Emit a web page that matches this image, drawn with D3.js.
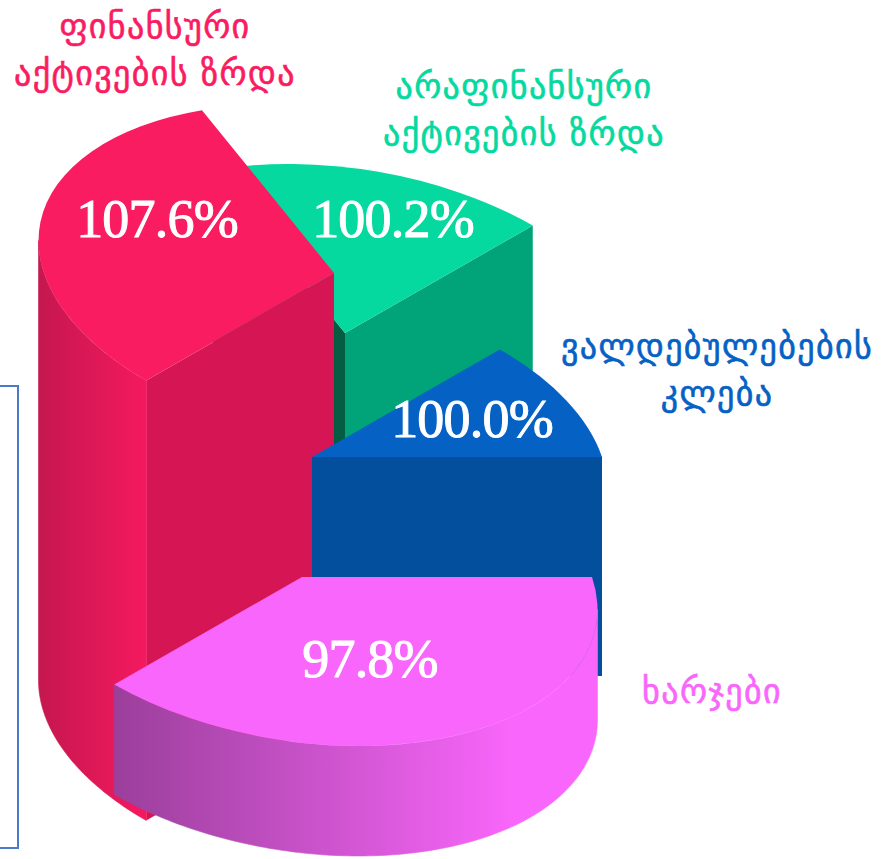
<!DOCTYPE html>
<html>
<head>
<meta charset="utf-8">
<style>
  html, body { margin: 0; background: #fff; }
  svg { display: block; }
  .value-label { font-family: "Liberation Serif", serif; font-size: 54px; letter-spacing: -0.8px; fill: #fff; stroke: #fff; stroke-width: 1px; text-anchor: middle; }
  .name-label { font-family: "DejaVu Sans", sans-serif; font-size: 34px; letter-spacing: 1.4px; stroke-width: 0.6px; text-anchor: middle; }
</style>
</head>
<body>
<div id="chart"></div>
<script src="https://cdn.jsdelivr.net/npm/d3@7/dist/d3.min.js"></script>
<script>
// slices run counter-clockwise from the front edge of the blue one
const sliceKeys = ["liabilities", "nonfinancial", "financial", "expenses"];
const sliceNames = [
  ["ვალდებულებების", "კლება"],
  ["არაფინანსური", "აქტივების ზრდა"],
  ["ფინანსური", "აქტივების ზრდა"],
  ["ხარჯები"],
];
const growthValues = [100.0, 100.2, 107.6, 97.8];
const sliceDegrees = [39.5, 66, 114, 140.5];

const WIDTH = 891;
const HEIGHT = 859;

// ellipse basis vectors of the tilted unit circle
const AXIS_U = [290, 0];
const AXIS_V = [-56.6, -169];
const ARC_RADIUS = 1000; // d3.arc rounds its path, so draw big and scale down

const COLORS = {
  liabilities: { top: "#0562c4", cut: "#034f9e", back: "#034f9e", side: ["#034f9e", "#034f9e"], sideEnd: 1, label: "#0562c4" },
  nonfinancial: { top: "#05d9a0", cut: "#01a378", back: "#045c43", side: ["#01a378", "#01a378"], sideEnd: 1, label: "#05d9a0" },
  financial: { top: "#f91c61", cut: "#d61654", back: "#d61654", side: ["#c5174f", "#f5195f"], sideEnd: 1, label: "#f91c61" },
  expenses: { top: "#f966fb", cut: "#f966fb", back: "#f966fb", side: ["#9b3f9b", "#f966fb"], sideEnd: 0.83, label: "#f966fb" },
};

// layout per slice: apex of the top face, label anchors
const LAYOUT = {
  liabilities: { apex: [312, 457], value: [472, 437], name: [717, 358], drawBack: false, drawCut: true },
  nonfinancial: { apex: [345, 333], value: [393, 237], name: [524, 98], drawBack: true, drawCut: true },
  financial: { apex: [334, 273], value: [157, 237], name: [155, 38], drawBack: false, drawCut: true },
  expenses: { apex: [302, 577], value: [370, 677], name: [712, 703], drawBack: false, drawCut: false },
};
const DRAW_ORDER = ["nonfinancial", "financial", "liabilities", "expenses"];
const NAME_LINE_HEIGHT = 47;

// wall height follows the value
const depth = d3.scaleLinear().domain([97.8, 100, 107.6]).range([110, 219, 440]);

const pie = d3.pie().sort(null).value((d) => d.degrees);
const slices = pie(
  sliceKeys.map((key, i) => ({
    key,
    names: sliceNames[i],
    value: growthValues[i],
    degrees: sliceDegrees[i],
  }))
);

const arc = d3.arc().innerRadius(0).outerRadius(ARC_RADIUS);
const outline = d3.line();

// angle measured like d3.arc, but 0 sits on AXIS_U and grows towards AXIS_V
function project(apex, angle, drop = 0) {
  return [
    apex[0] + Math.cos(angle) * AXIS_U[0] + Math.sin(angle) * AXIS_V[0],
    apex[1] + Math.cos(angle) * AXIS_U[1] + Math.sin(angle) * AXIS_V[1] + drop,
  ];
}

// silhouette points of the ellipse, the wall only shows between them
const leftTurn = Math.PI + Math.atan2(AXIS_V[0], AXIS_U[0]);
const rightTurn = 2 * Math.PI + Math.atan2(AXIS_V[0], AXIS_U[0]);

const svg = d3.select("#chart")
  .append("svg")
  .attr("width", WIDTH)
  .attr("height", HEIGHT)
  .attr("viewBox", `0 0 ${WIDTH} ${HEIGHT}`);

svg.append("rect").attr("width", WIDTH).attr("height", HEIGHT).attr("fill", "#fff");

// leftover frame cut by the page edge
svg.append("rect")
  .attr("x", -6)
  .attr("y", 386)
  .attr("width", 24)
  .attr("height", 462)
  .attr("fill", "none")
  .attr("stroke", "#4a7bc9")
  .attr("stroke-width", 2);

const defs = svg.append("defs");

function sideGradient(key, color, x0, x1) {
  const gradient = defs.append("linearGradient")
    .attr("id", `side-${key}`)
    .attr("gradientUnits", "userSpaceOnUse")
    .attr("x1", x0).attr("x2", x1)
    .attr("y1", 0).attr("y2", 0);
  gradient.append("stop").attr("offset", 0).attr("stop-color", color.side[0]);
  gradient.append("stop").attr("offset", color.sideEnd).attr("stop-color", color.side[1]);
}

function curvedWall(apex, from, to, drop) {
  const angles = d3.range(from, to, 0.02).concat(to);
  const top = angles.map((a) => project(apex, a));
  const bottom = angles.slice().reverse().map((a) => project(apex, a, drop));
  return outline(top.concat(bottom)) + "Z";
}

function cutWall(apex, angle, drop) {
  const rim = project(apex, angle);
  return outline([apex, rim, [rim[0], rim[1] + drop], [apex[0], apex[1] + drop]]) + "Z";
}

for (const key of DRAW_ORDER) {
  const slice = slices.find((d) => d.data.key === key);
  const { apex, drawBack, drawCut } = LAYOUT[key];
  const color = COLORS[key];
  const drop = depth(slice.data.value);
  const g = svg.append("g").attr("class", `slice slice-${key}`);

  if (drawBack) {
    g.append("path").attr("d", cutWall(apex, slice.endAngle, drop)).attr("fill", color.back);
  }

  if (drawCut) {
    const cutAngle = key === "financial" ? slice.endAngle : slice.startAngle;
    g.append("path").attr("d", cutWall(apex, cutAngle, drop)).attr("fill", color.cut);
  }

  const from = Math.max(slice.startAngle, leftTurn);
  const to = Math.min(slice.endAngle, rightTurn);
  if (from < to) {
    sideGradient(key, color, project(apex, from)[0], project(apex, to)[0]);
    // thin stroke closes the antialias seam against the top face
    g.append("path")
      .attr("d", curvedWall(apex, from, to, drop))
      .attr("fill", `url(#side-${key})`)
      .attr("stroke", `url(#side-${key})`)
      .attr("stroke-width", 0.6);
  }

  // d3.arc gives (sin a, -cos a), the matrix turns that into the tilted circle
  const k = 1 / ARC_RADIUS;
  g.append("path")
    .attr("d", arc({ startAngle: slice.startAngle, endAngle: slice.endAngle }))
    .attr("transform", `matrix(${AXIS_V[0] * k} ${AXIS_V[1] * k} ${-AXIS_U[0] * k} ${-AXIS_U[1] * k} ${apex[0]} ${apex[1]})`)
    .attr("fill", color.top);
}

const format = d3.format(".1f");

for (const slice of slices) {
  const { key, names, value } = slice.data;
  const spot = LAYOUT[key];

  svg.append("text")
    .attr("class", "value-label")
    .attr("x", spot.value[0])
    .attr("y", spot.value[1])
    .text(`${format(value)}%`);

  names.forEach((line, i) => {
    svg.append("text")
      .attr("class", "name-label")
      .attr("x", spot.name[0])
      .attr("y", spot.name[1] + i * NAME_LINE_HEIGHT)
      .attr("fill", COLORS[key].label)
      .attr("stroke", COLORS[key].label)
      .text(line);
  });
}
</script>
</body>
</html>
